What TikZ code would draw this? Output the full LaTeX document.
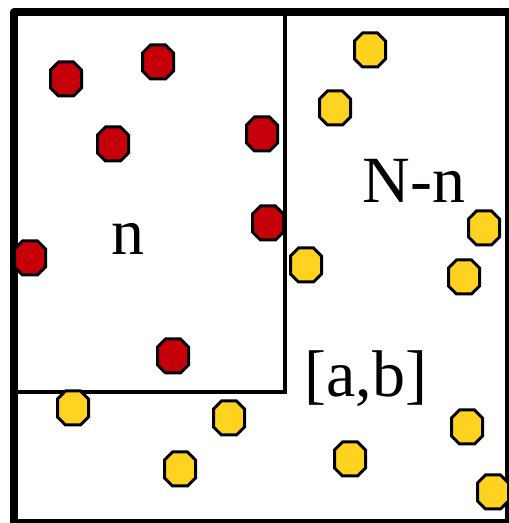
\documentclass[tikz,border=0pt]{standalone}
\usepackage{fontspec}
\setmainfont{Liberation Serif}
\definecolor{ored}{HTML}{C5000B}
\definecolor{oyel}{HTML}{FFD320}
\begin{document}
\begin{tikzpicture}[x=1pt,y=1pt,
  octo/.style={draw=black, line width=3pt, line join=miter, fill=#1},
  outerbox/.style={draw=black, line width=8pt, line join=round},
  innerbox/.style={draw=black, line width=4pt},
  lbl/.style={anchor=base, inner sep=0pt, font=\fontsize{66}{79}\selectfont},
  pics/oct/.style={code={\path[octo=#1] (-15.5,-9)--(-15.5,9)--(-7.5,17)--(7.5,17)--(15.5,9)--(15.5,-9)--(7.5,-17)--(-7.5,-17)--cycle;}}]
\useasboundingbox (0,0) rectangle (509,523);
\path[outerbox] (14,0) rectangle (509,510.5);
\path[innerbox] (285,510.5) -- (285,131) -- (14,131);
% red
\pic (r1) at (66,444) {oct=ored};
\pic (r2) at (158,461) {oct=ored};
\pic (r3) at (113,379) {oct=ored};
\pic (r4) at (262,389) {oct=ored};
\pic (r5) at (268,300) {oct=ored};
\pic (r6) at (30,265) {oct=ored};
\pic (r7) at (173,167) {oct=ored};
% yellow
\pic (y1) at (370,473) {oct=oyel};
\pic (y2) at (335,415) {oct=oyel};
\pic (y3) at (484,295) {oct=oyel};
\pic (y4) at (306,258) {oct=oyel};
\pic (y5) at (464,246) {oct=oyel};
\pic (y6) at (73,115) {oct=oyel};
\pic (y7) at (229,105) {oct=oyel};
\pic (y8) at (180,54) {oct=oyel};
\pic (y9) at (467,96) {oct=oyel};
\pic (y10) at (350,64) {oct=oyel};
\pic (y11) at (493,31) {oct=oyel};
% labels
\node[lbl] (ln) at (128,268) {n};
\node[lbl] (lNn) at (414,320) {N-n};
\node[lbl] (lab) at (366,126) {[a,b]};
\end{tikzpicture}
\end{document}
